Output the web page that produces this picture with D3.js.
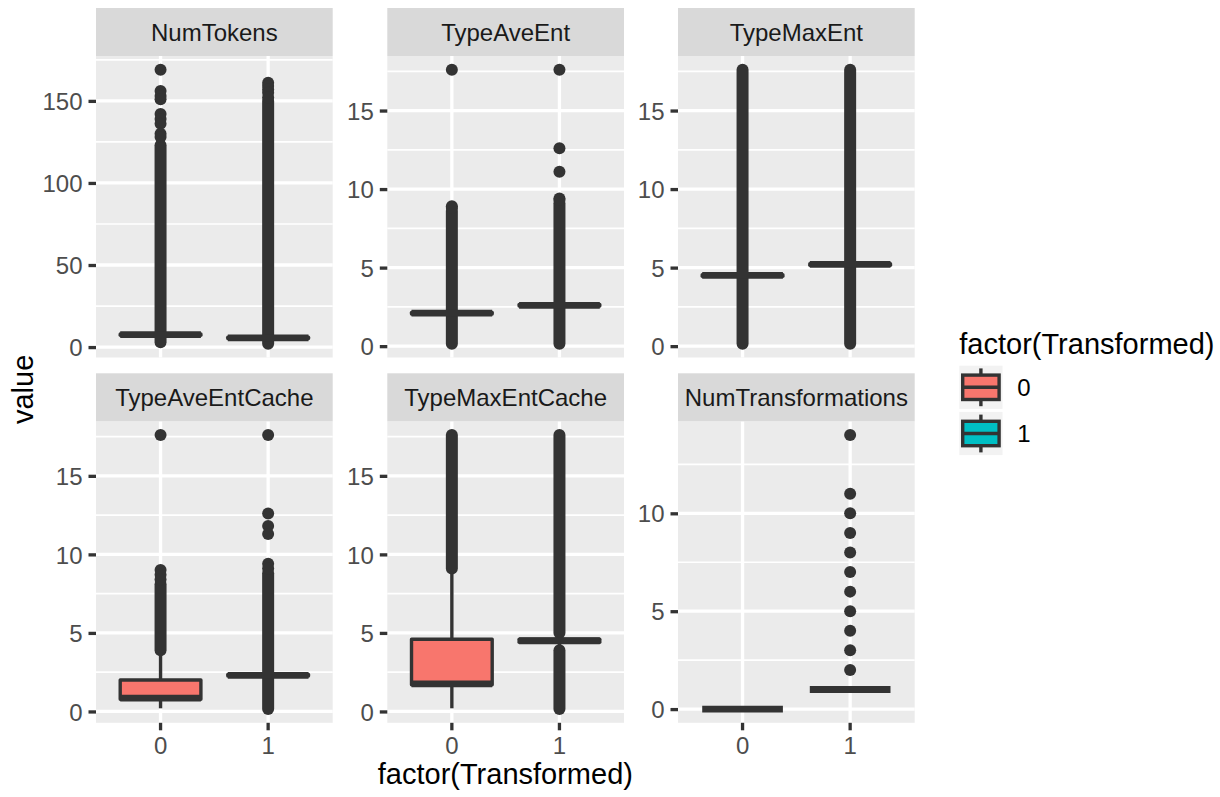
<!DOCTYPE html>
<html>
<head>
<meta charset="utf-8">
<script src="https://cdn.jsdelivr.net/npm/d3@7"></script>
<style>
  html, body { margin: 0; padding: 0; background: #ffffff; }
  svg { display: block; font-family: "Liberation Sans", Arial, Helvetica, sans-serif; }
</style>
</head>
<body>
<svg id="chart" width="1220" height="797"></svg>
<script>
// ---- data -------------------------------------------------------------
const facetNames = ["NumTokens", "TypeAveEnt", "TypeMaxEnt",
                    "TypeAveEntCache", "TypeMaxEntCache", "NumTransformations"];
const groupLevels = ["0", "1"];

// box statistics per facet, [group 0, group 1]
const whiskerLow    = [[6.0, 4.0], [1.95, 2.45], [4.35, 5.05], [0.2, 2.15], [0.2, 4.1], [0, 1]];
const lowerQuartile = [[7.2, 5.2], [2.05, 2.55], [4.45, 5.15], [0.78, 2.25], [1.7, 4.4], [0, 1]];
const medians       = [[7.6, 5.6], [2.1, 2.6],   [4.5, 5.2],   [0.85, 2.3],  [1.75, 4.5], [0, 1]];
const upperQuartile = [[8.0, 6.0], [2.15, 2.65], [4.55, 5.25], [2.0, 2.35],  [4.6, 4.6], [0, 1]];
const whiskerHigh   = [[9.2, 7.2], [2.3, 2.8],   [4.65, 5.35], [3.8, 2.45],  [8.9, 4.9], [0, 1]];

// isolated outliers per facet, [group 0, group 1]
const outlierPoints = [
  [[169, 156, 153, 151, 142, 139, 136, 130, 128], [161, 159, 157, 155, 152]],
  [[17.6, 8.9, 8.8], [17.6, 12.6, 11.1, 9.4, 9.3]],
  [[], []],
  [[17.6, 9.0, 8.7, 8.4], [17.6, 12.6, 11.8, 11.3, 9.4, 9.1]],
  [[], []],
  [[], [2, 3, 4, 5, 6, 7, 8, 9, 10, 11, 14]]
];

// stretches where outliers lie so close together that they merge into a
// solid column, [from, to] per stretch
const outlierRuns = [
  [[[3, 123]], [[2, 150]]],
  [[[0.15, 8.6]], [[0.15, 9.1]]],
  [[[0.15, 17.6]], [[0.15, 17.6]]],
  [[[3.9, 8.1]], [[0.15, 8.8]]],
  [[[9.1, 17.6]], [[0.15, 3.9], [5.0, 17.6]]],
  [[], []]
];

const yTicks = [[0, 50, 100, 150], [0, 5, 10, 15], [0, 5, 10, 15],
                [0, 5, 10, 15], [0, 5, 10, 15], [0, 5, 10]];

// ---- look -------------------------------------------------------------
const palette = ["#F8766D", "#00BFC4"];
const ink = "#333333";
const panelW = 236.7, panelH = 301.5, stripH = 48;
const colX = [96, 387.3, 678];
const rowTop = [8, 373.3];
const lineW = 3.4, medianW = 6.8, majorW = 3.3, minorW = 1.7;
const pointR = 6;
const tickLen = 7.5;

const svg = d3.select("#chart");

facetNames.forEach((name, i) => {
  const col = i % 3, row = Math.floor(i / 3);
  const g = svg.append("g")
    .attr("transform", `translate(${colX[col]},${rowTop[row] + stripH})`);

  // y range from every value shown in the facet, expanded by 5% each side
  const vals = [];
  groupLevels.forEach((_, k) => {
    vals.push(whiskerLow[i][k], whiskerHigh[i][k], lowerQuartile[i][k], upperQuartile[i][k]);
    outlierPoints[i][k].forEach(v => vals.push(v));
    outlierRuns[i][k].forEach(r => vals.push(r[0], r[1]));
  });
  const [lo, hi] = d3.extent(vals);
  const pad = (hi - lo) * 0.05;
  const y = d3.scaleLinear().domain([lo - pad, hi + pad]).range([panelH, 0]);
  const x = d3.scaleBand().domain(groupLevels).range([0, panelW])
    .paddingInner(0).paddingOuter(0.1);
  const cx = k => x(groupLevels[k]) + x.bandwidth() / 2;
  const boxW = x.bandwidth() * 0.75;

  // panel background and grid
  g.append("rect").attr("width", panelW).attr("height", panelH).attr("fill", "#EBEBEB");
  const ticks = yTicks[i];
  const step = ticks[1] - ticks[0];
  const minor = [];
  for (let t = ticks[0] - step / 2; t <= ticks[ticks.length - 1] + step; t += step) {
    if (t >= y.domain()[0] && t <= y.domain()[1]) minor.push(t);
  }
  g.selectAll(".minor").data(minor).join("line")
    .attr("x1", 0).attr("x2", panelW)
    .attr("y1", d => y(d)).attr("y2", d => y(d))
    .attr("stroke", "#ffffff").attr("stroke-width", minorW);
  g.selectAll(".major").data(ticks).join("line")
    .attr("x1", 0).attr("x2", panelW)
    .attr("y1", d => y(d)).attr("y2", d => y(d))
    .attr("stroke", "#ffffff").attr("stroke-width", majorW);
  g.selectAll(".vmajor").data(groupLevels).join("line")
    .attr("x1", d => x(d) + x.bandwidth() / 2).attr("x2", d => x(d) + x.bandwidth() / 2)
    .attr("y1", 0).attr("y2", panelH)
    .attr("stroke", "#ffffff").attr("stroke-width", majorW);

  // strip
  g.append("rect").attr("y", -stripH).attr("width", panelW).attr("height", stripH)
    .attr("fill", "#D9D9D9");
  g.append("text").attr("x", panelW / 2).attr("y", -stripH / 2).attr("dy", "0.36em")
    .attr("text-anchor", "middle").attr("font-size", 24).attr("fill", "#1A1A1A")
    .text(name);

  // y axis
  const ya = g.append("g").call(d3.axisLeft(y).tickValues(ticks).tickSize(tickLen).tickPadding(6));
  ya.attr("font-family", null).attr("font-size", null);
  ya.select(".domain").remove();
  ya.selectAll(".tick line").attr("stroke", ink).attr("stroke-width", majorW);
  ya.selectAll(".tick text").attr("fill", "#4D4D4D").attr("font-size", 24).attr("dy", "0.36em");

  // x axis on the bottom row only
  if (row === 1) {
    const xa = g.append("g").attr("transform", `translate(0,${panelH})`)
      .call(d3.axisBottom(x).tickSize(tickLen).tickPadding(6));
    xa.attr("font-family", null).attr("font-size", null);
    xa.select(".domain").remove();
    xa.selectAll(".tick line").attr("stroke", ink).attr("stroke-width", majorW);
    xa.selectAll(".tick text").attr("fill", "#4D4D4D").attr("font-size", 24).attr("dy", "0.74em");
  }

  // boxplots: outliers first, then whiskers, then the box and median
  groupLevels.forEach((lvl, k) => {
    const bx = cx(k);
    const b = g.append("g");
    b.selectAll(".run").data(outlierRuns[i][k]).join("line")
      .attr("x1", bx).attr("x2", bx)
      .attr("y1", d => y(d[0])).attr("y2", d => y(d[1]))
      .attr("stroke", ink).attr("stroke-width", pointR * 2).attr("stroke-linecap", "round");
    b.selectAll(".pt").data(outlierPoints[i][k]).join("circle")
      .attr("cx", bx).attr("cy", d => y(d)).attr("r", pointR).attr("fill", ink);
    b.append("line").attr("x1", bx).attr("x2", bx)
      .attr("y1", y(upperQuartile[i][k])).attr("y2", y(whiskerHigh[i][k]))
      .attr("stroke", ink).attr("stroke-width", lineW);
    b.append("line").attr("x1", bx).attr("x2", bx)
      .attr("y1", y(lowerQuartile[i][k])).attr("y2", y(whiskerLow[i][k]))
      .attr("stroke", ink).attr("stroke-width", lineW);
    b.append("rect")
      .attr("x", bx - boxW / 2).attr("width", boxW)
      .attr("y", y(upperQuartile[i][k]))
      .attr("height", Math.max(0, y(lowerQuartile[i][k]) - y(upperQuartile[i][k])))
      .attr("fill", palette[k]).attr("stroke", ink).attr("stroke-width", lineW)
      .attr("stroke-linejoin", "round");
    b.append("line")
      .attr("x1", bx - boxW / 2).attr("x2", bx + boxW / 2)
      .attr("y1", y(medians[i][k])).attr("y2", y(medians[i][k]))
      .attr("stroke", ink).attr("stroke-width", medianW);
  });
});

// axis titles
const plotLeft = colX[0], plotRight = colX[2] + panelW;
svg.append("text").attr("x", (plotLeft + plotRight) / 2).attr("y", 784)
  .attr("text-anchor", "middle").attr("font-size", 29).attr("fill", "#000")
  .text("factor(Transformed)");
svg.append("text")
  .attr("transform", `translate(33,${(rowTop[0] + stripH + rowTop[1] + stripH + panelH) / 2}) rotate(-90)`)
  .attr("text-anchor", "middle").attr("font-size", 29).attr("fill", "#000")
  .text("value");

// legend
const legX = 959.3, keySize = 43.2, keyStep = 46.2, keyTop0 = 365.7;
const leg = svg.append("g").attr("transform", `translate(${legX},0)`);
leg.append("text").attr("x", 0).attr("y", 353.5).attr("font-size", 29).attr("fill", "#000")
  .text("factor(Transformed)");
groupLevels.forEach((lvl, k) => {
  const top = keyTop0 + k * keyStep;
  const cy = top + keySize / 2, kx = keySize / 2;
  leg.append("rect").attr("y", top).attr("width", keySize).attr("height", keySize).attr("fill", "#F2F2F2");
  leg.append("line").attr("x1", kx).attr("x2", kx).attr("y1", cy - 18.9).attr("y2", cy - 12.2)
    .attr("stroke", ink).attr("stroke-width", lineW);
  leg.append("line").attr("x1", kx).attr("x2", kx).attr("y1", cy + 12.2).attr("y2", cy + 18.9)
    .attr("stroke", ink).attr("stroke-width", lineW);
  leg.append("rect").attr("x", 3.4).attr("y", cy - 12.2).attr("width", keySize - 6.8).attr("height", 24.4)
    .attr("fill", palette[k]).attr("stroke", ink).attr("stroke-width", lineW);
  leg.append("line").attr("x1", 3.4).attr("x2", keySize - 3.4).attr("y1", cy).attr("y2", cy)
    .attr("stroke", ink).attr("stroke-width", lineW);
  leg.append("text").attr("x", 58).attr("y", cy).attr("dy", "0.36em")
    .attr("font-size", 24).attr("fill", "#000").text(lvl);
});
</script>
</body>
</html>
